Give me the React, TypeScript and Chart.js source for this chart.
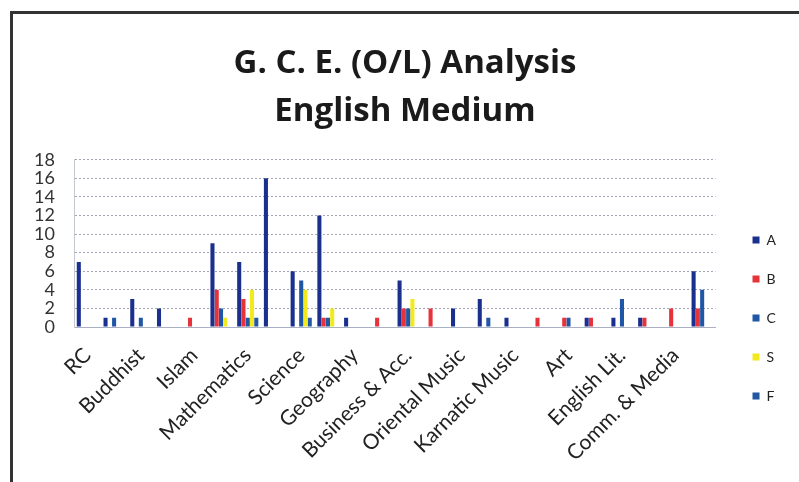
import React, { useEffect, useRef } from "react";
import { Chart, registerables } from "chart.js";

Chart.register(...registerables);

// 24 categories; only every other one carries a visible label in the reference
const categories = [
  "RC", "", "Buddhist", "", "Islam", "", "Mathematics", "",
  "Science", "", "Geography", "", "Business & Acc.", "", "Oriental Music", "",
  "Karnatic Music", "", "Art", "", "English Lit.", "", "Comm. & Media", "",
];

const seriesA = [7, 1, 3, 2, 0, 9, 7, 16, 6, 12, 1, 0, 5, 0, 2, 3, 1, 0, 0, 1, 1, 1, 0, 6];
const seriesB = [0, 0, 0, 0, 1, 4, 3, 0, 0, 1, 0, 1, 2, 2, 0, 0, 0, 1, 1, 1, 0, 1, 2, 2];
const seriesC = [0, 1, 1, 0, 0, 2, 1, 0, 5, 1, 0, 0, 2, 0, 0, 1, 0, 0, 1, 0, 3, 0, 0, 4];
const seriesS = [0, 0, 0, 0, 0, 1, 4, 0, 4, 2, 0, 0, 3, 0, 0, 0, 0, 0, 0, 0, 0, 0, 0, 0];
const seriesF = [0, 0, 0, 0, 0, 0, 1, 0, 1, 0, 0, 0, 0, 0, 0, 0, 0, 0, 0, 0, 0, 0, 0, 0];

const seriesNames = ["A", "B", "C", "S", "F"];
const yMax = 18;
const yStep = 2;
const titleLines = ["G. C. E. (O/L) Analysis", "English Medium"];

const colors = ["#1b2f8e", "#e5323b", "#1f56a6", "#f2ea1c", "#2157a5"];

export default function App() {
  const ref = useRef<HTMLCanvasElement | null>(null);

  useEffect(() => {
    if (!ref.current) return;
    const values = [seriesA, seriesB, seriesC, seriesS, seriesF];
    const chart = new Chart(ref.current, {
      type: "bar",
      data: {
        labels: categories,
        datasets: seriesNames.map((name, i) => ({
          label: name,
          data: values[i],
          backgroundColor: colors[i],
          borderWidth: 0,
          categoryPercentage: 0.8,
          barPercentage: 0.95,
        })),
      },
      options: {
        animation: false,
        responsive: false,
        devicePixelRatio: 1,
        layout: { padding: { left: 24, right: 13, top: 0, bottom: 0 } },
        plugins: {
          tooltip: { enabled: false },
          title: {
            display: true,
            text: titleLines,
            color: "#1a1a1a",
            font: { family: "Open Sans", size: 33, weight: "bold", lineHeight: 1.45 },
            padding: { top: 40, bottom: 24 },
          },
          legend: {
            position: "right",
            align: "start",
            title: {
              display: true,
              text: "",
              font: { size: 10, lineHeight: 1.2 },
              padding: { top: 196, bottom: 0 },
            },
            labels: {
              boxWidth: 7,
              boxHeight: 7,
              padding: 25,
              color: "#222",
              font: { family: "Lato", size: 14 },
            },
          },
        },
        scales: {
          x: {
            grid: { display: false },
            border: { display: true, color: "#a9b0c4", width: 1 },
            ticks: {
              autoSkip: false,
              maxRotation: 45,
              minRotation: 45,
              padding: 8,
              color: "#222",
              font: { family: "Lato", size: 21 },
            },
            afterFit: (s: any) => {
              s.height = 155;
            },
          },
          y: {
            min: 0,
            max: yMax,
            grid: { color: "#a2a6b4", lineWidth: 1, drawTicks: false },
            border: { display: true, color: "#c4c8d2", dash: [2, 2] },
            ticks: {
              stepSize: yStep,
              autoSkip: false,
              padding: 19,
              color: "#333",
              font: { family: "Lato", size: 18 },
            },
            afterFit: (s: any) => {
              s.width = 50;
            },
          },
          y2: {
            type: "linear",
            position: "right",
            display: true,
            grid: { display: false, drawTicks: false },
            border: { display: false },
            ticks: { display: false },
            afterFit: (s: any) => {
              s.width = 12;
            },
          },
        },
      },
    });
    return () => chart.destroy();
  }, []);

  return (
    <div
      style={{
        position: "fixed",
        left: 0,
        top: 0,
        width: 799,
        height: 482,
        background: "#fff",
        overflow: "hidden",
      }}
    >
      <div
        style={{
          position: "absolute",
          left: 10,
          top: 11,
          width: 800,
          height: 480,
          borderLeft: "3px solid #333",
          borderTop: "3px solid #333",
        }}
      />
      <canvas
        ref={ref}
        width={799}
        height={482}
        style={{ position: "absolute", left: 0, top: 0, width: 799, height: 482 }}
      />
    </div>
  );
}
